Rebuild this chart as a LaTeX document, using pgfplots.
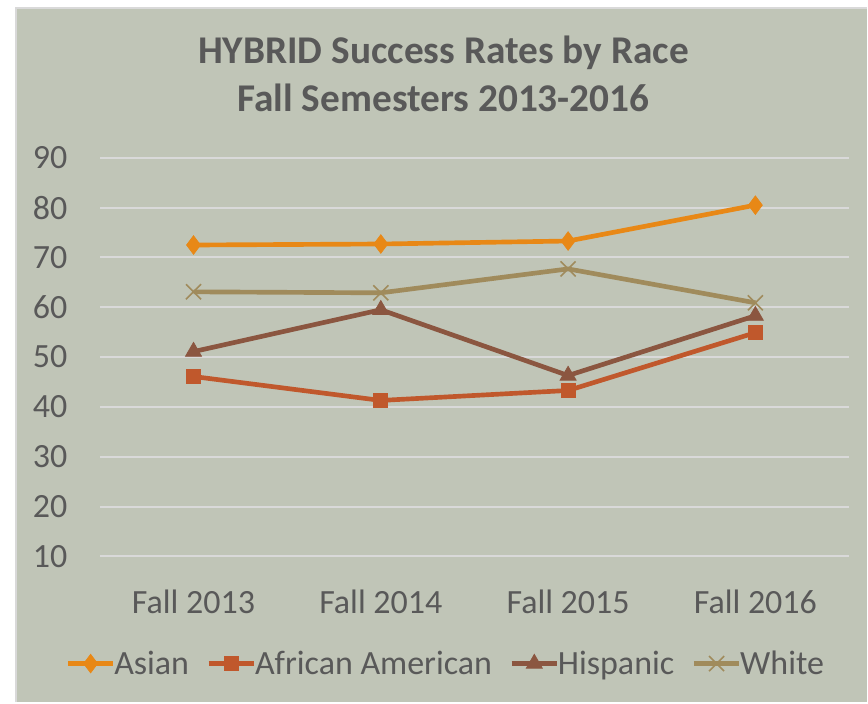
\documentclass[border=0pt]{standalone}
\usepackage{pgfplots}
\pgfplotsset{compat=1.18}
\usepackage{fontspec}
\setmainfont{Carlito}
\definecolor{bg}{RGB}{192,197,183}
\definecolor{gridc}{RGB}{217,217,217}
\definecolor{txt}{RGB}{89,89,89}
\definecolor{asianc}{RGB}{232,136,22}
\definecolor{afamc}{RGB}{192,88,44}
\definecolor{hispc}{RGB}{139,86,64}
\definecolor{whitec}{RGB}{160,139,92}
\definecolor{bordc}{RGB}{217,217,217}
\begin{document}
\begin{tikzpicture}
\fill[white] (-75pt,-109.5pt) rectangle (576pt,417.75pt);
\fill[bg] (-63pt,-109.5pt) rectangle (576pt,411.75pt);
\draw[bordc,line width=1.5pt] (-63pt,-109.5pt) -- (-63pt,411.75pt) -- (576pt,411.75pt);
\node[align=center,font=\fontsize{29.5}{36}\selectfont\bfseries,text=txt] at (258pt,362.5pt) {HYBRID Success Rates by Race\\Fall Semesters 2013-2016};
\begin{axis}[
  at={(0,0)}, anchor=south west,
  scale only axis,
  width=562.5pt, height=299.25pt,
  xmin=-0.5, xmax=3.5, ymin=10, ymax=90,
  xtick={0,1,2,3},
  xticklabels={Fall 2013,Fall 2014,Fall 2015,Fall 2016},
  ytick={10,20,...,90},
  ymajorgrids,
  grid style={gridc,line width=1.5pt},
  axis line style={draw=none},
  major tick length=0pt,
  tick label style={font=\fontsize{25.5}{30}\selectfont,text=txt},
  /pgf/number format/assume math mode=true,
  yticklabel style={xshift=-21pt},
  xticklabel style={yshift=-22pt},
  legend columns=4,
  legend style={at={(260pt,-80.5pt)},anchor=center,draw=none,fill=none,
    font=\fontsize{25.5}{30}\selectfont,text=txt,
    /tikz/every odd column/.append style={column sep=-3pt},
    /tikz/every even column/.append style={column sep=11pt}},
  legend cell align=left,
  legend image code/.code={\draw[#1] (0pt,0pt) -- (34pt,0pt); \draw[#1,mark repeat=1] plot coordinates {(17pt,0pt)};},
]
\addplot[asianc,line width=3.5pt,mark=diamond*,mark size=7pt,mark options={solid,line width=0.5pt}] coordinates {(0,72.5) (1,72.7) (2,73.3) (3,80.5)};
\addlegendentry{Asian}
\addplot[afamc,line width=3.5pt,mark=square*,mark size=5.25pt,mark options={solid,line width=0.5pt}] coordinates {(0,46.1) (1,41.3) (2,43.3) (3,54.9)};
\addlegendentry{African American}
\addplot[hispc,line width=3.5pt,mark=triangle*,mark size=7pt,mark options={solid,line width=0.5pt}] coordinates {(0,51.1) (1,59.5) (2,46.3) (3,58.3)};
\addlegendentry{Hispanic}
\addplot[whitec,line width=3.5pt,mark=x,mark size=8pt,mark options={solid,line width=1.2pt}] coordinates {(0,63.1) (1,62.9) (2,67.7) (3,60.9)};
\addlegendentry{White}
\end{axis}
\end{tikzpicture}
\end{document}
